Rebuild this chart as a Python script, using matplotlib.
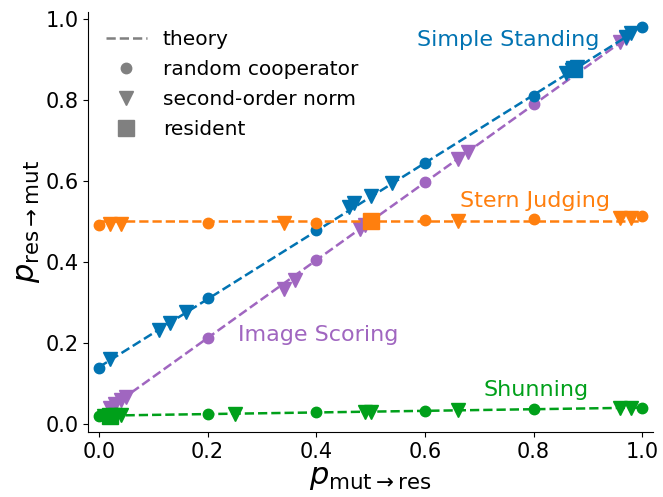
import numpy as np
import matplotlib
matplotlib.use('Agg')
import matplotlib.pyplot as plt
from matplotlib.lines import Line2D

# norm names, colours, label positions
norms = ['Simple Standing', 'Stern Judging', 'Image Scoring', 'Shunning']
colors = ['#0173b2', '#ff7f0e', '#a066c0', '#00a01a']

# theory lines
theory_x = [0.0, 1.0]
theory_ss = [0.14, 0.98]
theory_sj = [0.50, 0.50]
theory_is = [0.02, 0.98]
theory_sh = [0.02, 0.04]

# random cooperator points
rc_x = [0.0, 0.2, 0.4, 0.6, 0.8, 1.0]
rc_ss = [0.137, 0.311, 0.478, 0.645, 0.810, 0.980]
rc_sj = [0.490, 0.495, 0.497, 0.503, 0.505, 0.512]
rc_is_x = [0.2, 0.4, 0.6, 0.8]
rc_is = [0.213, 0.405, 0.597, 0.790]
rc_sh = [0.020, 0.025, 0.028, 0.032, 0.036, 0.040]

# second-order norm points
so_ss_x = [0.02, 0.11, 0.13, 0.16, 0.46, 0.47, 0.50, 0.54, 0.86, 0.87, 0.88, 0.97, 0.98]
so_ss_y = [0.160, 0.232, 0.250, 0.275, 0.535, 0.545, 0.563, 0.595, 0.865, 0.873, 0.882, 0.955, 0.965]
so_sj_x = [0.02, 0.04, 0.34, 0.66, 0.96, 0.98]
so_sj_y = [0.493, 0.493, 0.497, 0.500, 0.507, 0.507]
so_is_x = [0.02, 0.03, 0.04, 0.05, 0.34, 0.36, 0.48, 0.49, 0.66, 0.68, 0.96, 0.97]
so_is_y = [0.040, 0.050, 0.058, 0.065, 0.333, 0.355, 0.480, 0.490, 0.655, 0.672, 0.942, 0.952]
so_sh_x = [0.01, 0.02, 0.03, 0.04, 0.25, 0.49, 0.50, 0.66, 0.96, 0.98]
so_sh_y = [0.020, 0.020, 0.021, 0.021, 0.025, 0.030, 0.030, 0.033, 0.040, 0.040]

# residents
res_x = [0.875, 0.50, 0.50, 0.02]
res_y = [0.875, 0.50, 0.50, 0.02]

label_pos = [(0.586, 0.933), (0.665, 0.536), (0.256, 0.205), (0.707, 0.069)]

fig = plt.figure(figsize=(6.63, 4.97), dpi=100)
ax = fig.add_axes([0.133, 0.131, 0.852, 0.845])

c_ss, c_sj, c_is, c_sh = colors
ms_c, ms_t, ms_s = 7.5, 10, 12

ax.plot(theory_x, theory_is, '--', color=c_is, lw=1.8)
ax.plot(rc_is_x, rc_is, 'o', color=c_is, ms=ms_c)
ax.plot(so_is_x, so_is_y, 'v', color=c_is, ms=ms_t)
ax.plot(theory_x, theory_ss, '--', color=c_ss, lw=1.8)
ax.plot(rc_x, rc_ss, 'o', color=c_ss, ms=ms_c)
ax.plot(so_ss_x, so_ss_y, 'v', color=c_ss, ms=ms_t)
ax.plot(res_x[0], res_y[0], 's', color=c_ss, ms=ms_s)
ax.plot(theory_x, theory_sj, '--', color=c_sj, lw=1.8)
ax.plot(rc_x, rc_sj, 'o', color=c_sj, ms=ms_c)
ax.plot(so_sj_x, so_sj_y, 'v', color=c_sj, ms=ms_t)
ax.plot(res_x[1], res_y[1], 's', color=c_sj, ms=ms_s)
ax.plot(theory_x, theory_sh, '--', color=c_sh, lw=1.8)
ax.plot(rc_x, rc_sh, 'o', color=c_sh, ms=ms_c)
ax.plot(so_sh_x, so_sh_y, 'v', color=c_sh, ms=ms_t)
ax.plot(res_x[3], res_y[3], 's', color=c_sh, ms=ms_s)

for name, col, (tx, ty) in zip(norms, colors, label_pos):
    ax.text(tx, ty, name, color=col, fontsize=16, va='baseline')

ax.set_xlim(-0.02, 1.02)
ax.set_ylim(-0.02, 1.017)
ax.set_xticks([0, 0.2, 0.4, 0.6, 0.8, 1.0])
ax.set_yticks([0, 0.2, 0.4, 0.6, 0.8, 1.0])
ax.tick_params(labelsize=15)
ax.spines['top'].set_visible(False)
ax.spines['right'].set_visible(False)
ax.set_xlabel(r'$p_{\mathrm{mut}\rightarrow\mathrm{res}}$', fontsize=22, labelpad=1)
ax.set_ylabel(r'$p_{\mathrm{res}\rightarrow\mathrm{mut}}$', fontsize=22, labelpad=2)

handles = [
    Line2D([], [], ls='--', color='gray', lw=1.8),
    Line2D([], [], ls='', marker='o', color='gray', ms=ms_c),
    Line2D([], [], ls='', marker='v', color='gray', ms=ms_t),
    Line2D([], [], ls='', marker='s', color='gray', ms=ms_s),
]
ax.legend(handles, ['theory', 'random cooperator', 'second-order norm', 'resident'],
          loc='upper left', frameon=False, fontsize=14.5, bbox_to_anchor=(0.0, 1.0),
          handlelength=2.0, labelspacing=0.55)

fig.savefig('out.png', dpi=100)
